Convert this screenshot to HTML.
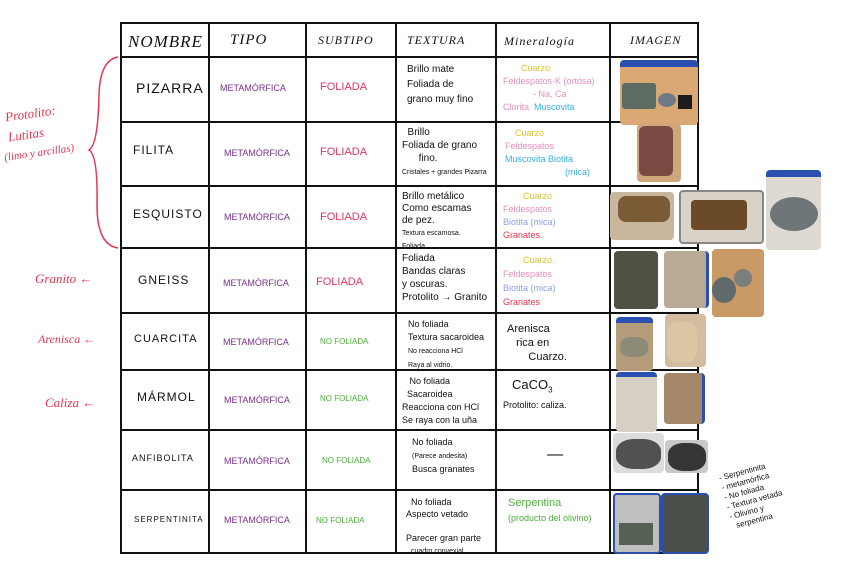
<!DOCTYPE html>
<html><head><meta charset="utf-8"><style>
body{margin:0;width:848px;height:561px;background:#fff;position:relative;overflow:hidden;font-family:"Liberation Sans",sans-serif}
.a{position:absolute}
.h{position:absolute;background:#111;height:2px}
.v{position:absolute;background:#111;width:2px}
.t{position:absolute;white-space:nowrap;line-height:1.15}
.hd{font-family:"Liberation Serif",serif;font-size:15px;letter-spacing:1px;color:#111;font-style:italic;font-weight:normal}
.nm{font-size:12px;letter-spacing:1px;color:#111}
.mt{font-size:9px;color:#7b2d8e}
.fo{font-size:11px;color:#e0365a}
.nf{font-size:8px;color:#4caf3a}
.tx{font-size:9px;color:#111}
.ph{position:absolute;border-radius:4px;overflow:hidden}
.red{color:#e8334f;font-family:"Liberation Serif",serif;font-style:italic}
</style></head><body>
<div class="h" style="left:121px;top:22px;width:577px"></div>
<div class="h" style="left:121px;top:56px;width:577px"></div>
<div class="h" style="left:121px;top:121px;width:577px"></div>
<div class="h" style="left:121px;top:185px;width:577px"></div>
<div class="h" style="left:121px;top:247px;width:577px"></div>
<div class="h" style="left:121px;top:312px;width:577px"></div>
<div class="h" style="left:121px;top:369px;width:577px"></div>
<div class="h" style="left:121px;top:429px;width:577px"></div>
<div class="h" style="left:121px;top:489px;width:577px"></div>
<div class="h" style="left:121px;top:552px;width:577px"></div>
<div class="v" style="left:120px;top:22px;height:532px"></div>
<div class="v" style="left:208px;top:22px;height:532px"></div>
<div class="v" style="left:305px;top:22px;height:532px"></div>
<div class="v" style="left:395px;top:22px;height:532px"></div>
<div class="v" style="left:495px;top:22px;height:532px"></div>
<div class="v" style="left:609px;top:22px;height:532px"></div>
<div class="v" style="left:697px;top:22px;height:532px"></div>
<div class="t hd" style="left:128px;top:32px;font-size:17px">NOMBRE</div>
<div class="t hd" style="left:230px;top:32px">TIPO</div>
<div class="t hd" style="left:318px;top:34px;font-size:12px">SUBTIPO</div>
<div class="t hd" style="left:407px;top:34px;font-size:12px">TEXTURA</div>
<div class="t hd" style="left:504px;top:35px;font-size:12px">Mineralogía</div>
<div class="t hd" style="left:630px;top:34px;font-size:12px">IMAGEN</div>
<div class="t nm" style="left:136px;top:80px;font-size:14px">PIZARRA</div>
<div class="t nm" style="left:133px;top:144px">FILITA</div>
<div class="t nm" style="left:133px;top:208px">ESQUISTO</div>
<div class="t nm" style="left:138px;top:274px">GNEISS</div>
<div class="t nm" style="left:134px;top:333px;font-size:11px">CUARCITA</div>
<div class="t nm" style="left:137px;top:391px">MÁRMOL</div>
<div class="t nm" style="left:132px;top:453px;font-size:9px">ANFIBOLITA</div>
<div class="t nm" style="left:134px;top:515px;font-size:8px">SERPENTINITA</div>
<div class="t mt" style="left:220px;top:83px">METAMÓRFICA</div>
<div class="t mt" style="left:224px;top:148px">METAMÓRFICA</div>
<div class="t mt" style="left:224px;top:212px">METAMÓRFICA</div>
<div class="t mt" style="left:223px;top:278px">METAMÓRFICA</div>
<div class="t mt" style="left:223px;top:337px">METAMÓRFICA</div>
<div class="t mt" style="left:224px;top:395px">METAMÓRFICA</div>
<div class="t mt" style="left:224px;top:456px">METAMÓRFICA</div>
<div class="t mt" style="left:224px;top:515px">METAMÓRFICA</div>
<div class="t fo" style="left:320px;top:81px">FOLIADA</div>
<div class="t fo" style="left:320px;top:146px">FOLIADA</div>
<div class="t fo" style="left:320px;top:211px">FOLIADA</div>
<div class="t fo" style="left:316px;top:276px">FOLIADA</div>
<div class="t nf" style="left:320px;top:337px">NO FOLIADA</div>
<div class="t nf" style="left:320px;top:394px">NO FOLIADA</div>
<div class="t nf" style="left:322px;top:456px">NO FOLIADA</div>
<div class="t nf" style="left:316px;top:516px">NO FOLIADA</div>
<div class="t tx" style="left:407px;top:62px;font-size:10px;line-height:15px">Brillo mate<br>Foliada de<br>grano muy fino</div>
<div class="t tx" style="left:402px;top:126px;font-size:10px;line-height:13px">&nbsp;&nbsp;Brillo<br>Foliada de grano<br>&nbsp;&nbsp;&nbsp;&nbsp;&nbsp;&nbsp;fino.<br><span style="font-size:7px">Cristales + grandes Pizarra</span></div>
<div class="t tx" style="left:402px;top:191px;font-size:10px;line-height:12px">Brillo metálico<br>Como escamas<br>de pez.<br><span style="font-size:7px">Textura escamosa.<br>Foliada</span></div>
<div class="t tx" style="left:402px;top:252px;font-size:10px;line-height:13px">Foliada<br>Bandas claras<br>y oscuras.<br>Protolito → Granito</div>
<div class="t tx" style="left:408px;top:318px;font-size:9px;line-height:13px">No foliada<br>Textura sacaroidea<br><span style="font-size:7px">No reacciona HCl<br>Raya al vidrio.</span></div>
<div class="t tx" style="left:402px;top:375px;font-size:9px;line-height:13px">&nbsp;&nbsp;&nbsp;No foliada<br>&nbsp;&nbsp;Sacaroidea<br>Reacciona con HCl<br>Se raya con la uña</div>
<div class="t tx" style="left:412px;top:436px;font-size:9px;line-height:13px">No foliada<br><span style="font-size:7px">(Parece andesita)</span><br>Busca granates</div>
<div class="t tx" style="left:406px;top:496px;font-size:9px;line-height:12px">&nbsp;&nbsp;No foliada<br>Aspecto vetado<br><br>Parecer gran parte<br>&nbsp;&nbsp;<span style="font-size:7px">cuadro convexial</span></div>
<div class="t" style="left:503px;top:62px;font-size:9px;line-height:13px"><span style="color:#d9c52a;margin-left:18px">Cuarzo</span><br><span style="color:#e98fc0">Feldespatos-K (ortosa)</span><br><span style="color:#e98fc0;margin-left:30px">- Na, Ca</span><br><span style="color:#e98fc0">Clorita</span>&nbsp;&nbsp;<span style="color:#3ab0e0">Muscovita</span></div>
<div class="t" style="left:505px;top:127px;font-size:9px;line-height:13px"><span style="color:#d9c52a;margin-left:10px">Cuarzo</span><br><span style="color:#e98fc0">Feldespatos</span><br><span style="color:#3ab0e0">Muscovita</span> <span style="color:#3ab0e0">Biotita</span><br><span style="color:#3ab0e0;margin-left:60px">(mica)</span></div>
<div class="t" style="left:503px;top:190px;font-size:9px;line-height:13px"><span style="color:#d9c52a;margin-left:20px">Cuarzo</span><br><span style="color:#e98fc0">Feldespatos</span><br><span style="color:#8da0ea">Biotita (mica)</span><br><span style="color:#e8334f">Granates.</span></div>
<div class="t" style="left:503px;top:253px;font-size:9px;line-height:14px"><span style="color:#d9c52a;margin-left:20px">Cuarzo.</span><br><span style="color:#e98fc0">Feldespatos</span><br><span style="color:#8da0ea">Biotita (mica)</span><br><span style="color:#e8334f">Granates</span></div>
<div class="t tx" style="left:507px;top:322px;font-size:11px;line-height:14px">Arenisca<br>&nbsp;&nbsp;&nbsp;rica en<br>&nbsp;&nbsp;&nbsp;&nbsp;&nbsp;&nbsp;&nbsp;Cuarzo.</div>
<div class="t tx" style="left:512px;top:378px;font-size:13px">CaCO<sub style="font-size:8px">3</sub></div>
<div class="t tx" style="left:503px;top:400px;font-size:9px">Protolito: caliza.</div>
<div class="t tx" style="left:547px;top:446px;font-size:16px">—</div>
<div class="t" style="left:508px;top:496px;font-size:11px;color:#4caf3a;line-height:15px">Serpentina<br><span style="font-size:9px">(producto del olivino)</span></div>
<div class="t red" style="left:5px;top:107px;font-size:13px;transform:rotate(-8deg)">Protolito:</div>
<div class="t red" style="left:8px;top:128px;font-size:13px;transform:rotate(-8deg)">Lutitas</div>
<div class="t red" style="left:4px;top:147px;font-size:11px;transform:rotate(-8deg)">(limo y arcillas)</div>
<svg class="a" style="left:85px;top:55px" width="40" height="200"><path d="M33 2 Q15 5 14 40 Q13 90 4 95 Q13 100 12 150 Q12 190 33 193" stroke="#e8334f" stroke-width="1.5" fill="none"/></svg>
<div class="t red" style="left:35px;top:272px;font-size:13px">Granito ←</div>
<div class="t red" style="left:38px;top:333px;font-size:12px">Arenisca ←</div>
<div class="t red" style="left:45px;top:396px;font-size:13px">Caliza ←</div>
<div class="t tx" style="left:718px;top:474px;font-size:8px;line-height:10px;transform:rotate(-15deg);transform-origin:left top">- Serpentinita<br>- metamórfica<br>- No foliada<br>- Textura vetada<br>- Olivino y<br>&nbsp;&nbsp;serpentina</div>
<div class="ph" style="left:620px;top:60px;width:78px;height:58px;background:#d9a874;border-top:7px solid #2a4fb0"><div class="a" style="left:2px;top:16px;width:34px;height:26px;background:#5d6c62;border-radius:3px"></div><div class="a" style="left:38px;top:26px;width:18px;height:14px;background:#6f7a86;border-radius:50%"></div><div class="a" style="left:58px;top:28px;width:14px;height:14px;background:#1d1d1d"></div></div>
<div class="ph" style="left:637px;top:124px;width:44px;height:58px;background:#cfa57c"><div class="a" style="left:2px;top:2px;width:34px;height:50px;background:#7a4b43;border-radius:6px"></div></div>
<div class="ph" style="left:610px;top:192px;width:64px;height:48px;background:#c8b79c"><div class="a" style="left:8px;top:4px;width:52px;height:26px;background:#7b5a36;border-radius:8px"></div></div>
<div class="ph" style="left:679px;top:190px;width:81px;height:50px;background:#d8d2c9;border:2px solid #888"><div class="a" style="left:10px;top:8px;width:56px;height:30px;background:#6a4a29;border-radius:4px"></div></div>
<div class="ph" style="left:766px;top:170px;width:55px;height:73px;background:#dedad3;border-top:7px solid #2a4fb0"><div class="a" style="left:4px;top:20px;width:48px;height:34px;background:#6f7677;border-radius:50%"></div></div>
<div class="ph" style="left:614px;top:251px;width:44px;height:58px;background:#4e5245"></div>
<div class="ph" style="left:664px;top:251px;width:42px;height:57px;background:#b9aa95;border-right:3px solid #2a4fb0"></div>
<div class="ph" style="left:712px;top:249px;width:52px;height:68px;background:#c99a66"><div class="a" style="left:0;top:28px;width:24px;height:26px;background:#616a6a;border-radius:50%"></div><div class="a" style="left:22px;top:20px;width:18px;height:18px;background:#7b7e7a;border-radius:50%"></div></div>
<div class="ph" style="left:616px;top:317px;width:37px;height:48px;background:#b49c7b;border-top:6px solid #2a4fb0"><div class="a" style="left:4px;top:14px;width:28px;height:20px;background:#8d8a77;border-radius:40%"></div></div>
<div class="ph" style="left:665px;top:314px;width:41px;height:53px;background:#d2bda0"><div class="a" style="left:2px;top:8px;width:30px;height:40px;background:#dcc6a4;border-radius:30%"></div></div>
<div class="ph" style="left:616px;top:372px;width:41px;height:55px;background:#d6cfc4;border-top:5px solid #2a4fb0"></div>
<div class="ph" style="left:664px;top:373px;width:38px;height:51px;background:#a5876a;border-right:3px solid #2a4fb0"></div>
<div class="ph" style="left:613px;top:433px;width:51px;height:40px;background:#dcdcdc"><div class="a" style="left:3px;top:6px;width:45px;height:30px;background:#4f5250;border-radius:40%"></div></div>
<div class="ph" style="left:665px;top:440px;width:43px;height:33px;background:#c9c9c9"><div class="a" style="left:3px;top:3px;width:38px;height:28px;background:#343735;border-radius:40%"></div></div>
<div class="ph" style="left:613px;top:493px;width:44px;height:57px;background:#bfbfbf;border:2px solid #2a4fb0"><div class="a" style="left:4px;top:28px;width:34px;height:22px;background:#556152"></div></div>
<div class="ph" style="left:661px;top:493px;width:44px;height:57px;background:#4a5049;border:2px solid #2a4fb0"></div>
</body></html>
